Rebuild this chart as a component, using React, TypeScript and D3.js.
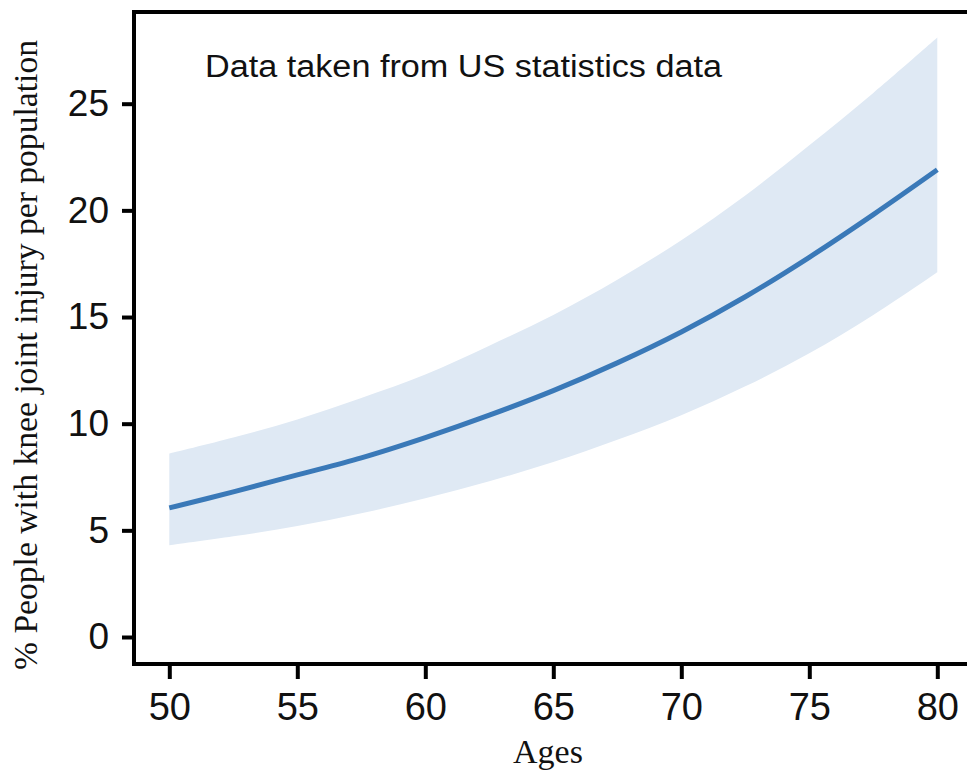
import React, { useEffect, useRef } from "react";
import * as d3 from "d3";

// ages on the x axis
const ages = [50, 52.5, 55, 57.5, 60, 62.5, 65, 67.5, 70, 72.5, 75, 77.5, 80];
// fitted % of people with knee joint injury
const fitted = [6.05, 6.8, 7.6, 8.4, 9.35, 10.4, 11.55, 12.85, 14.3, 15.95, 17.8, 19.8, 21.9];
// confidence band
const upper = [8.6, 9.35, 10.2, 11.2, 12.3, 13.65, 15.1, 16.75, 18.6, 20.7, 23.05, 25.5, 28.1];
const lower = [4.3, 4.72, 5.2, 5.8, 6.5, 7.3, 8.2, 9.25, 10.4, 11.75, 13.3, 15.1, 17.1];

const xTicks = [50, 55, 60, 65, 70, 75, 80];
const yTicks = [0, 5, 10, 15, 20, 25];

const App = () => {
  const svgRef = useRef<SVGSVGElement>(null);

  useEffect(() => {
    const W = 967;
    const H = 774;
    const svg = d3.select(svgRef.current).attr("width", W).attr("height", H);
    svg.selectAll("*").remove();

    const x = d3.scaleLinear().domain([50, 80]).range([169.3, 937.3]);
    const y = d3.scaleLinear().domain([0, 25]).range([637, 103.7]);

    const rows = ages.map((a, i) => ({ a, m: fitted[i], hi: upper[i], lo: lower[i] }));

    // band
    const band = d3
      .area<any>()
      .x((d) => x(d.a))
      .y0((d) => y(d.lo))
      .y1((d) => y(d.hi))
      .curve(d3.curveCatmullRom);
    svg.append("path").datum(rows).attr("d", band).attr("fill", "#dfe9f4");

    // fitted line
    const line = d3
      .line<any>()
      .x((d) => x(d.a))
      .y((d) => y(d.m))
      .curve(d3.curveCatmullRom);
    svg
      .append("path")
      .datum(rows)
      .attr("d", line)
      .attr("fill", "none")
      .attr("stroke", "#3a79b8")
      .attr("stroke-width", 5);

    // frame (left, top, bottom)
    const left = 134;
    const bottom = 664;
    const top = 12;
    svg
      .append("path")
      .attr("d", `M${W},${top}H${left}V${bottom}H${W}`)
      .attr("fill", "none")
      .attr("stroke", "#000")
      .attr("stroke-width", 4);

    // y axis
    const gy = svg
      .append("g")
      .attr("transform", `translate(${left},0)`)
      .call(d3.axisLeft(y).tickValues(yTicks).tickSize(12).tickPadding(13));
    gy.select(".domain").remove();
    gy.selectAll("line").attr("stroke", "#000").attr("stroke-width", 4);
    gy.selectAll("text")
      .attr("fill", "#111")
      .style("font-family", "'Liberation Sans', Arial, sans-serif")
      .style("font-size", "37px");

    // x axis
    const gx = svg
      .append("g")
      .attr("transform", `translate(0,${bottom})`)
      .call(d3.axisBottom(x).tickValues(xTicks).tickSize(15).tickPadding(14));
    gx.select(".domain").remove();
    gx.selectAll("line").attr("stroke", "#000").attr("stroke-width", 4);
    gx.selectAll("text")
      .attr("fill", "#111")
      .attr("dy", "0.71em")
      .style("font-family", "'Liberation Sans', Arial, sans-serif")
      .style("font-size", "38px");

    // note
    svg
      .append("text")
      .attr("x", 205)
      .attr("y", 77)
      .attr("textLength", 517)
      .attr("lengthAdjust", "spacingAndGlyphs")
      .style("font-family", "'Liberation Sans', Arial, sans-serif")
      .style("font-size", "31px")
      .attr("fill", "#111")
      .text("Data taken from US statistics data");

    // axis titles
    svg
      .append("text")
      .attr("x", 548)
      .attr("y", 763)
      .attr("text-anchor", "middle")
      .style("font-family", "'Liberation Serif', 'Times New Roman', serif")
      .style("font-size", "34px")
      .attr("fill", "#111")
      .text("Ages");

    svg
      .append("text")
      .attr("transform", "translate(37,355) rotate(-90)")
      .attr("text-anchor", "middle")
      .attr("textLength", 630)
      .attr("lengthAdjust", "spacingAndGlyphs")
      .style("font-family", "'Liberation Serif', 'Times New Roman', serif")
      .style("font-size", "33px")
      .attr("fill", "#111")
      .text("% People with knee joint injury per population");
  }, []);

  return (
    <svg
      ref={svgRef}
      style={{ position: "absolute", left: 0, top: 0, background: "#fff" }}
    ></svg>
  );
};

export default App;
